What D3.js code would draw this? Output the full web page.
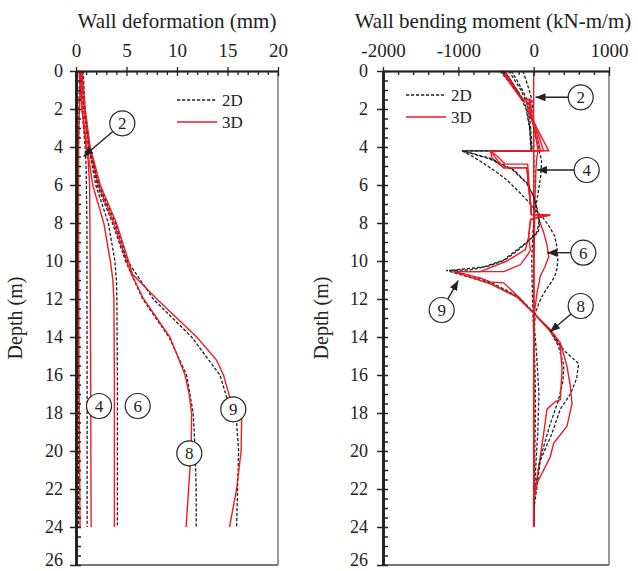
<!DOCTYPE html>
<html>
<head>
<meta charset="utf-8">
<script src="https://cdn.jsdelivr.net/npm/d3@7"></script>
<style>
  html, body { margin: 0; padding: 0; background: #fff; }
  svg { display: block; }
  svg text { font-family: "Liberation Serif", "DejaVu Serif", serif !important; fill: #222; }
</style>
</head>
<body>
<svg id="chart" width="638" height="571" font-family="Liberation Serif, serif"></svg>
<script>
// ---- axis ticks ----
const depthTicks = [0, 2, 4, 6, 8, 10, 12, 14, 16, 18, 20, 22, 24, 26];
const deformTicks = [0, 5, 10, 15, 20];
const momentTicks = [-2000, -1000, 0, 1000];

// ---- wall deformation (mm) by depth (m): [depth, value] ----
const def2D_s2 = [[0,0.35],[2,0.3],[4,0.25],[8,0.22],[16,0.22],[24,0.25]];
const def3D_s2 = [[0,0.45],[2,0.35],[4,0.25],[8,0.25],[16,0.3],[24,0.4]];
const def2D_s4 = [[0,0.4],[2,0.6],[4,0.9],[5,1.0],[8,1.08],[16,1.1],[24,1.1]];
const def3D_s4 = [[0,0.3],[2,0.6],[4,1.0],[4.7,1.2],[6,1.35],[10,1.4],[16,1.45],[24,1.5]];
const def2D_s6 = [[0,0.5],[2,0.75],[4,1.25],[6,1.95],[8,3.2],[10,3.85],[11,4.0],[12,4.05],[16,4.1],[24,4.1]];
const def3D_s6 = [[0,0.4],[2,0.6],[4,1.1],[6,1.65],[8,2.75],[10,3.4],[11,3.65],[12,3.75],[16,3.8],[24,3.8]];
const def2D_s8 = [[0,0.6],[2,0.8],[4,1.3],[6,2.1],[8,3.6],[10,4.9],[12,6.6],[14,9.2],[16,10.95],[18,11.6],[20,11.8],[22,11.9],[24,11.9]];
const def3D_s8 = [[0,0.5],[2,0.8],[4,1.3],[6,2.2],[8,3.75],[10,5.0],[10.7,5.5],[12,6.7],[14,9.3],[16,10.8],[17,11.2],[18,11.45],[20,11.4],[22,11.15],[24,10.9]];
const def2D_s9 = [[0,0.7],[2,0.9],[4,1.35],[6,2.3],[8,3.9],[10,5.1],[12,7.65],[14,11.45],[16,14.25],[17.5,15.1],[18.5,15.9],[20,16.1],[22,16.0],[24,15.9]];
const def3D_s9 = [[0,0.6],[2,0.9],[4,1.4],[6,2.4],[8,4.0],[10,5.2],[10.7,5.6],[12,8.0],[14,11.95],[15.2,13.9],[16,14.6],[17.5,15.4],[18.3,16.4],[20,16.35],[22,15.9],[24,15.2]];

// ---- wall bending moment (kN-m/m) by depth (m): [depth, value] ----
const mom2D_s2 = [[0,-140],[0.5,-100],[1,-60],[1.5,-25],[2,-10],[3,0],[5,5],[8,0],[24,0]];
const mom3D_s2 = [[0,0],[24,0]];
const mom2D_s4 = [[0,-300],[0.5,-220],[1,-150],[1.5,-90],[2,-50],[3,0],[4,60],[4.7,105],[5.5,95],[6.5,55],[7.5,15],[8.5,-10],[10,-25],[12,-15],[14,0],[16,20],[18,25],[20,15],[22,5],[24,0]];
const mom3D_s4 = [[0,-380],[0.5,-300],[1,-220],[1.5,-150],[1.5,-50],[2.4,-20],[3.3,20],[4.2,60],[4.6,40],[5.2,30],[7,15],[10,5],[16,0],[24,0]];
const mom2D_s6 = [[0,-330],[0.5,-250],[1,-170],[1.5,-110],[2,-70],[3,-40],[4.2,-20],[4.2,-950],[4.5,-810],[4.86,-664],[5.3,-500],[5.74,-354],[6.3,-210],[6.8,-88],[7.3,20],[7.7,120],[8.2,210],[8.7,280],[9.3,310],[9.9,320],[10.4,310],[10.8,280],[11.2,220],[11.7,133],[12.2,70],[12.75,22],[13.5,10],[15,40],[17,70],[19,55],[21,25],[23,5],[24,0]];
const mom3D_s6 = [[0,-420],[0.5,-330],[1,-240],[1.5,-155],[1.5,-44],[2.4,-30],[3.3,80],[4.2,200],[4.2,-575],[4.6,-550],[5.1,-400],[5.1,-90],[6,-70],[7,-40],[7.55,-30],[7.58,220],[7.7,60],[8.5,133],[9.2,180],[9.77,200],[10.3,150],[10.8,88],[11.7,44],[12.7,10],[14,0],[24,0]];
const mom2D_s8 = [[0,-400],[0.5,-310],[1,-220],[1.5,-140],[2,-90],[3,-50],[4.2,-30],[4.2,-950],[4.6,-600],[5.2,-280],[5.9,-95],[6.6,0],[7.3,50],[8.0,70],[8.5,40],[9.0,-80],[9.5,-230],[9.95,-380],[10.3,-620],[10.5,-1120],[10.8,-820],[11.18,-540],[11.88,-200],[12.75,10],[13.7,221],[14.5,330],[15.5,400],[16.3,390],[17.3,330],[18.7,210],[20.5,80],[22,20],[23,0],[24,0]];
const mom3D_s8 = [[0,-400],[0.5,-320],[1,-230],[1.5,-150],[1.5,-60],[2.4,-40],[3.3,60],[4.2,130],[4.2,-575],[4.5,-480],[4.9,-380],[4.9,-80],[6,-60],[7,-40],[7.55,-30],[7.58,220],[7.8,-40],[8.7,-66],[9.4,-110],[10.0,-354],[10.56,-708],[10.56,-1062],[10.9,-700],[11.1,-575],[11.15,-398],[11.9,-200],[12.75,0],[13.7,221],[14.5,354],[15.7,376],[17.3,354],[17.4,288],[17.8,177],[19.07,133],[20.3,88],[21.5,44],[22.4,0],[24,0]];
const mom2D_s9 = [[0,-450],[0.5,-340],[1,-240],[1.5,-160],[2,-100],[3,-55],[4.2,-35],[4.2,-950],[4.6,-570],[5.2,-265],[5.9,-88],[6.6,0],[7.3,44],[8.0,80],[8.5,60],[9.0,-88],[9.5,-250],[9.95,-400],[10.3,-650],[10.47,-840],[10.5,-1160],[10.8,-900],[11.18,-575],[11.88,-221],[12.75,0],[13.63,221],[14.7,400],[15.4,597],[16.2,570],[17.0,487],[17.8,354],[19.07,243],[20.5,88],[21.9,44],[23.1,0],[24,0]];
const mom3D_s9 = [[0,-430],[0.5,-340],[1,-250],[1.5,-160],[1.5,-100],[2.4,-45],[3.3,40],[4.2,90],[4.2,-575],[4.6,-500],[5.1,-400],[5.1,-88],[6,-70],[7,-44],[7.55,-30],[7.58,150],[7.84,-44],[8.7,-66],[9.42,-44],[9.6,-66],[10.2,-177],[10.56,-398],[10.56,-1062],[11.2,-575],[11.9,-221],[12.75,0],[13.6,221],[14.3,354],[15.5,440],[16.6,487],[17.5,509],[18.7,442],[19.6,265],[20.3,221],[21.7,44],[22.6,0],[24,0]];

const red = "#ec1c24";
const ink = "#222";
const serif = "Liberation Serif, DejaVu Serif, serif";
const svg = d3.select("#chart");
const yScale = d3.scaleLinear().domain([0, 26]).range([71, 565]);

const panels = [
  { x: d3.scaleLinear().domain([0, 20]).range([76, 278]), ticks: deformTicks, minorStep: 1,
    title: "Wall deformation (mm)", titleX: 177, depthX: 22, labelPad: 7,
    series: [def2D_s2, def3D_s2, def2D_s4, def3D_s4, def2D_s6, def3D_s6, def2D_s8, def3D_s8, def2D_s9, def3D_s9] },
  { x: d3.scaleLinear().domain([-2000, 1000]).range([383, 609]), ticks: momentTicks, minorStep: 200,
    title: "Wall bending moment (kN-m/m)", titleX: 493, depthX: 328, labelPad: 9,
    series: [mom2D_s2, mom3D_s2, mom2D_s4, mom3D_s4, mom2D_s6, mom3D_s6, mom2D_s8, mom3D_s8, mom2D_s9, mom3D_s9] }
];

// arrowhead
svg.append("defs").append("marker")
  .attr("id", "head").attr("viewBox", "0 0 10 8").attr("refX", 10).attr("refY", 4)
  .attr("markerWidth", 10).attr("markerHeight", 8).attr("markerUnits", "userSpaceOnUse")
  .attr("orient", "auto")
  .append("path").attr("d", "M0,0 L10,4 L0,8 Z").attr("fill", ink);

panels.forEach(p => {
  const g = svg.append("g");
  const [x0, x1] = p.x.range();
  const [y0, y1] = yScale.range();

  // right and bottom frame
  g.append("line").attr("x1", x1).attr("x2", x1).attr("y1", y0).attr("y2", y1)
    .attr("stroke", "#777").attr("stroke-width", 1.5);
  g.append("line").attr("x1", x0).attr("x2", x1).attr("y1", y1).attr("y2", y1)
    .attr("stroke", "#777").attr("stroke-width", 2);

  // curves: even index = 2D (dashed black), odd = 3D (red)
  const line = d3.line().x(d => p.x(d[1])).y(d => yScale(d[0]));
  p.series.forEach((s, i) => {
    g.append("path").datum(s).attr("d", line).attr("fill", "none")
      .attr("stroke", i % 2 ? red : ink)
      .attr("stroke-width", i % 2 ? 1.4 : 1.3)
      .attr("stroke-dasharray", i % 2 ? null : "3.2,1.8");
  });

  // top axis: labels + outward ticks, inward major and minor ticks
  const dom = p.x.domain();
  const minor = d3.range(dom[0], dom[1] + 1e-9, p.minorStep).filter(v => !p.ticks.includes(v));
  const top = g.append("g").attr("transform", `translate(0,${y0})`);
  top.call(d3.axisTop(p.x).tickValues(p.ticks).tickSizeInner(4).tickSizeOuter(0).tickPadding(10).tickFormat(d => String(d)));
  top.append("g").call(d3.axisTop(p.x).tickValues(p.ticks).tickSizeInner(-5).tickSizeOuter(0).tickFormat(""));
  top.append("g").call(d3.axisTop(p.x).tickValues(minor).tickSizeInner(-4).tickSizeOuter(0).tickFormat(""));
  top.attr("font-family", serif);
  top.selectAll("path.domain").attr("stroke", ink).attr("stroke-width", 1.3);
  top.selectAll("line").attr("stroke", ink).attr("stroke-width", 1.3);
  top.selectAll("text").attr("font-size", 19).attr("fill", ink);

  // left axis: labels + crossing major ticks + inward minor ticks
  const minorY = d3.range(0, 26.0001, 0.5).filter(v => !depthTicks.includes(v));
  const left = g.append("g").attr("transform", `translate(${x0},0)`);
  left.call(d3.axisLeft(yScale).tickValues(depthTicks).tickSizeInner(6).tickSizeOuter(0).tickPadding(p.labelPad).tickFormat(d => String(d)));
  left.append("g").call(d3.axisLeft(yScale).tickValues(depthTicks).tickSizeInner(-5).tickSizeOuter(0).tickFormat(""));
  left.append("g").call(d3.axisLeft(yScale).tickValues(minorY).tickSizeInner(-5).tickSizeOuter(0).tickFormat(""));
  left.attr("font-family", serif);
  left.selectAll("path.domain").attr("stroke", ink).attr("stroke-width", 2.4);
  left.selectAll("line").attr("stroke", ink).attr("stroke-width", 1.5);
  left.selectAll("text").attr("font-size", 18).attr("fill", ink).attr("dy", d => d === 26 ? "0.02em" : "0.3em");

  // titles
  g.append("text").attr("x", p.titleX).attr("y", 28).attr("text-anchor", "middle")
    .attr("font-size", 21).text(p.title);
  g.append("text").attr("transform", `translate(${p.depthX},318) rotate(-90)`)
    .attr("text-anchor", "middle").attr("font-size", 20).text("Depth (m)");

  p.g = g;
});

// legends
function legend(g, lx, ly) {
  const items = [{ t: "2D", c: ink, d: "3.2,1.8" }, { t: "3D", c: red, d: null }];
  items.forEach((it, i) => {
    const y = ly + i * 22;
    g.append("line").attr("x1", lx).attr("x2", lx + 40).attr("y1", y).attr("y2", y)
      .attr("stroke", it.c).attr("stroke-width", 1.4).attr("stroke-dasharray", it.d);
    g.append("text").attr("x", lx + 45).attr("y", y + 6).attr("font-size", 17).text(it.t);
  });
}
legend(panels[0].g, 177, 100);
legend(panels[1].g, 406, 95);

// stage markers: circled number, optionally with an arrow to its curve
function marker(g, cx, cy, label, tip) {
  const r = 12.5;
  if (tip) {
    const dx = tip[0] - cx, dy = tip[1] - cy, L = Math.hypot(dx, dy);
    g.append("line").attr("x1", cx + dx / L * r).attr("y1", cy + dy / L * r)
      .attr("x2", tip[0]).attr("y2", tip[1])
      .attr("stroke", ink).attr("stroke-width", 1.4).attr("marker-end", "url(#head)");
  }
  g.append("circle").attr("cx", cx).attr("cy", cy).attr("r", r)
    .attr("fill", "#fff").attr("stroke", ink).attr("stroke-width", 1.2);
  g.append("text").attr("x", cx).attr("y", cy + 6).attr("text-anchor", "middle")
    .attr("font-size", 17).text(label);
}
const gl = panels[0].g, gr = panels[1].g;
marker(gl, 122.3, 123.3, "2", [83.5, 156.5]);
marker(gl, 99, 406, "4");
marker(gl, 137.7, 406, "6");
marker(gl, 233.3, 409.3, "9");
marker(gl, 189.3, 453.3, "8");

marker(gr, 580.7, 97.3, "2", [535.5, 97.3]);
marker(gr, 586.7, 170, "4", [537, 170]);
marker(gr, 583.3, 252.7, "6", [547, 252.7]);
marker(gr, 580.7, 306, "8", [550, 331.7]);
marker(gr, 441.7, 310, "9", [458.3, 280.5]);
</script>
</body>
</html>
